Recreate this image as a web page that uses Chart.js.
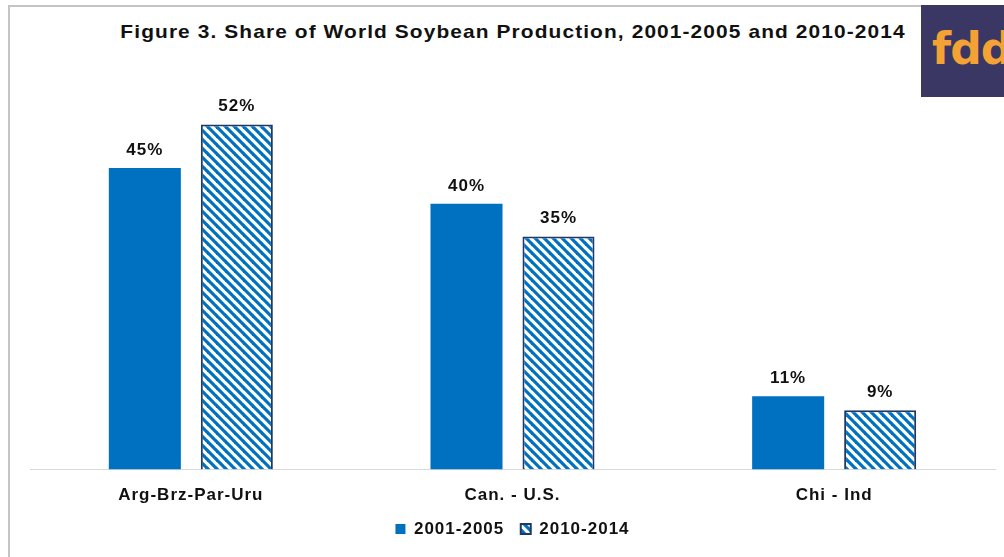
<!DOCTYPE html>
<html>
<head>
<meta charset="utf-8">
<script src="https://cdn.jsdelivr.net/npm/chart.js@4.4.1/dist/chart.umd.min.js"></script>
<style>
    html, body { margin: 0; padding: 0; background: #fff; overflow: hidden; }
    body { width: 1004px; height: 557px; position: relative; font-family: "Liberation Sans", Arial, sans-serif; }
    #frame { position: absolute; left: 8px; top: 5px; right: -10px; bottom: -10px; border-left: 2px solid #c4c4c4; border-top: 2px solid #c4c4c4; }
    #wrap { position: absolute; left: 0; top: 0; width: 1004px; height: 557px; }
    #title { position: absolute; left: 513px; top: 21px; transform: translateX(-50%) scaleX(1.1); transform-origin: center; font: bold 19px "Liberation Sans", Arial, sans-serif; letter-spacing: 1px; color: #111; white-space: nowrap; }
    #logo { position: absolute; left: 921px; top: 5px; width: 90px; height: 92px; background: #3b3764; overflow: hidden; }
    #logo span { position: absolute; left: 11px; top: 18px; color: #f5a235; font: bold 44px "DejaVu Sans", sans-serif; letter-spacing: -1px; }
</style>
</head>
<body>
<div id="frame"></div>
<div id="title">Figure 3. Share of World Soybean Production, 2001-2005 and 2010-2014</div>
<div id="wrap"><canvas id="shareChart"></canvas></div>
<div id="logo"><span>fdd</span></div>
<script>
// Share of world soybean production (%), labels show the rounded value
const regions = ['Arg-Brz-Par-Uru', 'Can. - U.S.', 'Chi - Ind'];
const period1Label = '2001-2005';
const period2Label = '2010-2014';
const period1Share = [45.3, 39.9, 11.0];
const period2Share = [51.8, 35.0, 8.9];

const BLUE = '#0070c0';
const NAVY = '#1f3864';
const FONT = '"Liberation Sans", Arial, sans-serif';

// diagonal stripe fill for the second period
function makeHatch() {
    const size = 9;
    const c = document.createElement('canvas');
    c.width = size;
    c.height = size;
    const ctx = c.getContext('2d');
    ctx.fillStyle = '#fff';
    ctx.fillRect(0, 0, size, size);
    ctx.strokeStyle = BLUE;
    ctx.lineWidth = 3.2;
    for (let k = -1; k <= 1; k++) {
        ctx.beginPath();
        ctx.moveTo(k * size - 1, -1);
        ctx.lineTo(k * size + size + 1, size + 1);
        ctx.stroke();
    }
    return ctx.createPattern(c, 'repeat');
}

// the original text is a bit wider than plain Arial, so space the letters out
const wideText = {
    id: 'wideText',
    beforeLayout(chart) { chart.ctx.letterSpacing = '1px'; },
    beforeDraw(chart) { chart.ctx.letterSpacing = '1px'; }
};

const valueLabels = {
    id: 'valueLabels',
    afterDatasetsDraw(chart) {
        const ctx = chart.ctx;
        ctx.save();
        ctx.letterSpacing = '1px';
        ctx.font = 'bold 17px ' + FONT;
        ctx.fillStyle = '#111';
        ctx.textAlign = 'center';
        ctx.textBaseline = 'middle';
        chart.data.datasets.forEach((ds, i) => {
            chart.getDatasetMeta(i).data.forEach((bar, j) => {
                ctx.fillText(Math.round(ds.data[j]) + '%', bar.x, bar.y - 18);
            });
        });
        ctx.restore();
    }
};

const hatch = makeHatch();
const LEGEND_PAD = 16.5;

new Chart(document.getElementById('shareChart').getContext('2d'), {
    type: 'bar',
    data: {
        labels: regions,
        datasets: [{
            label: period1Label,
            data: period1Share,
            backgroundColor: BLUE,
            borderColor: BLUE,
            borderWidth: 0
        }, {
            label: period2Label,
            data: period2Share,
            backgroundColor: hatch,
            borderColor: NAVY,
            borderWidth: 2
        }]
    },
    options: {
        responsive: true,
        maintainAspectRatio: false,
        animation: false,
        layout: { padding: { top: 70, left: 30, right: 9, bottom: 9.5 } },
        categoryPercentage: 0.572,
        barPercentage: 0.783,
        scales: {
            x: {
                grid: { display: false },
                border: { display: true, color: '#d9d9d9', width: 1 },
                ticks: {
                    color: '#111',
                    padding: 8,
                    font: { family: FONT, size: 17, weight: 'bold' }
                },
                // the wider legend spacing also pads it vertically; give that back to the plot
                afterFit(scale) { scale.height -= (LEGEND_PAD - 6.5); }
            },
            y: {
                display: false,
                min: 0,
                max: 60
            }
        },
        plugins: {
            legend: {
                position: 'bottom',
                labels: {
                    color: '#111',
                    boxWidth: 10,
                    boxHeight: 10,
                    padding: LEGEND_PAD,
                    font: { family: FONT, size: 17, weight: 'bold' }
                }
            },
            tooltip: { enabled: false }
        }
    },
    plugins: [wideText, valueLabels]
});
</script>
</body>
</html>
